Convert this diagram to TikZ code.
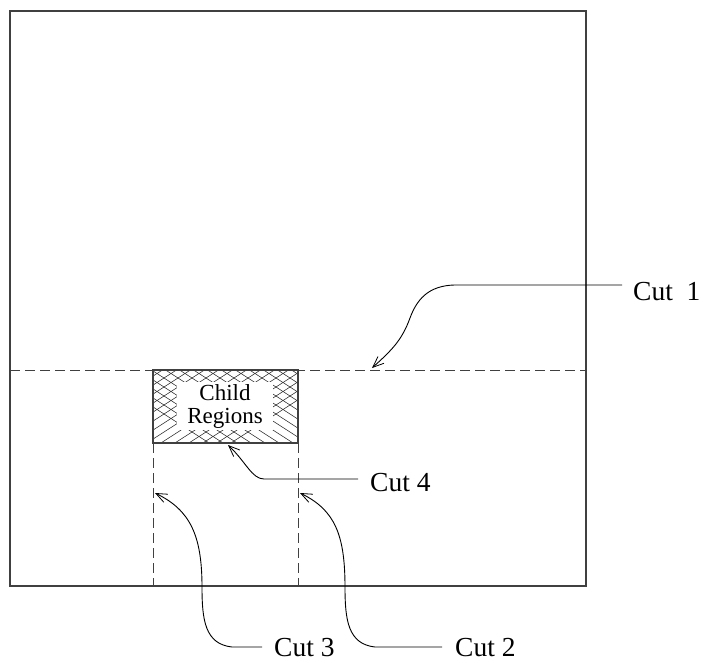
\documentclass[tikz,border=0pt]{standalone}
\usepackage{fontspec}
\setmainfont{Liberation Serif}
\usetikzlibrary{arrows.meta}
\begin{document}
\begin{tikzpicture}[x=1pt,y=-1pt,
  frame/.style={line width=1.1pt,draw=black!75},
  cutline/.style={line width=1pt,draw=black!75,dash pattern=on 10pt off 5pt},
  lead/.style={line width=0.9pt,-{Straight Barb[length=11pt,width=9pt,line width=0.8pt]}},
  lbl/.style={anchor=base west,inner sep=0pt,font=\fontsize{27.5}{30}\selectfont},
  hatch/.style={line width=0.55pt,draw=black!85}]
\useasboundingbox (0,0) rectangle (704,662);
% outer region
\draw[frame] (10,11) rectangle (586,586);
% cut 1 (horizontal dashed)
\coordinate (c1L) at (10,370);
\coordinate (c1R) at (586,370);
\draw[cutline] (c1L) -- (c1R);
% child region hatch
\begin{scope}
  \clip (153,370) rectangle (298,443);
  \foreach \i in {0,14,...,280} {
    \draw[hatch] (80+\i,360) -- ++(140,90);
    \draw[hatch] (80+\i,360) -- ++(-140,90);
  }
\end{scope}
\node[fill=white,minimum width=96pt,minimum height=48pt,inner sep=0pt,align=center,
  font=\fontsize{23}{23}\selectfont] (child) at (225,406) {Child\\Regions};
\draw[frame] (153,370) rectangle (298,443);
% cut 3 and cut 2 (vertical dashed)
\coordinate (c3T) at (153,443);
\coordinate (c3B) at (153,586);
\coordinate (c2T) at (298,443);
\coordinate (c2B) at (298,586);
\draw[cutline] (c3T) -- (c3B);
\draw[cutline] (c2T) -- (c2B);
% labels
\node[lbl] (t1) at (633,300) {Cut\ \ 1};
\node[lbl] (t4) at (370,491) {Cut 4};
\node[lbl] (t3) at (274,656) {Cut 3};
\node[lbl] (t2) at (455,656) {Cut 2};
% leader starts
\coordinate (s1) at (622,285);
\coordinate (s4) at (358,479);
\coordinate (s3) at (262,647);
\coordinate (s2) at (442,647);
% arrow targets
\coordinate (a1) at (372,368);
\coordinate (a4) at (228,445);
\coordinate (a3) at (155,493);
\coordinate (a2) at (300,493);
% leaders
\draw[lead] (s1) -- (460,285) .. controls (432,284) and (418,296) .. (410,318)
  .. controls (402,340) and (392,350) .. (a1);
\draw[lead] (s4) -- (264,479) .. controls (252,479) and (246,462) .. (a4);
\draw[lead] (s3) -- (232,647) .. controls (205,644) and (202,620) .. (202,587)
  .. controls (202,535) and (190,510) .. (a3);
\draw[lead] (s2) -- (375,647) .. controls (348,644) and (345,620) .. (345,587)
  .. controls (345,535) and (335,510) .. (a2);
\end{tikzpicture}
\end{document}
